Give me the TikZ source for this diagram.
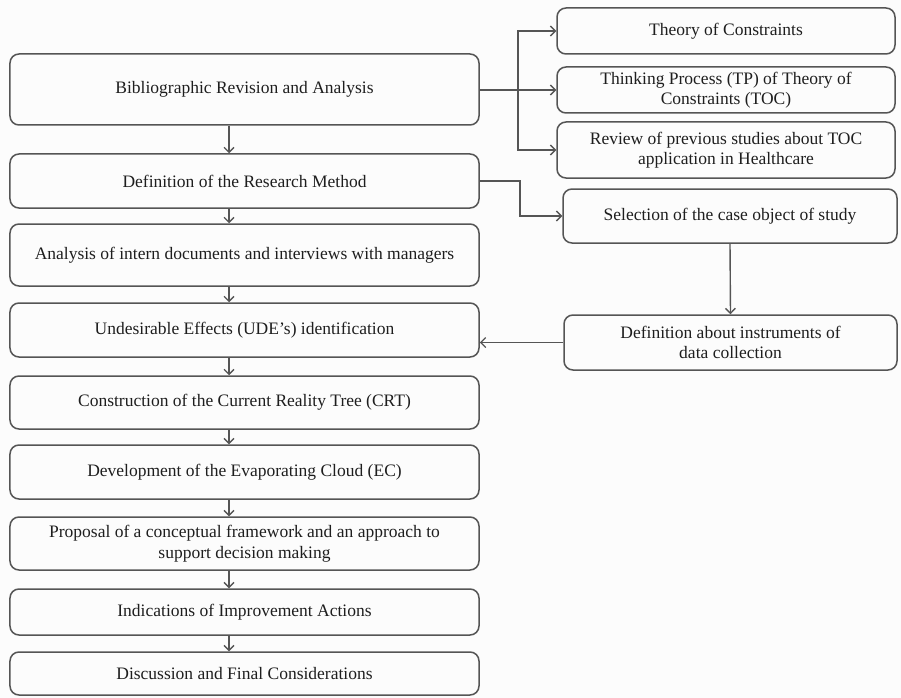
\documentclass[tikz,border=0pt]{standalone}
\usepackage{fontspec}
\setmainfont{Liberation Serif}
\usetikzlibrary{arrows.meta}
\definecolor{edgegray}{HTML}{555555}
\definecolor{txt}{HTML}{1E1E1E}
\definecolor{bg}{HTML}{FCFCFC}
\begin{document}
\begin{tikzpicture}[x=1bp,y=-1bp,
  box/.style={draw=edgegray, line width=1.5bp, rounded corners=9bp, align=center,
    text=txt, font=\fontsize{17.5bp}{20.5bp}\selectfont, inner sep=0pt},
  lbox/.style={box, minimum width=469bp},
  rbox/.style={box, minimum width=338bp},
  link/.style={draw=edgegray, line width=1.4bp},
  arr/.style={link, -{Straight Barb[length=5bp,width=10bp]}}]
\fill[bg] (0,0) rectangle (901,698);
\useasboundingbox (0,0) rectangle (901,698);
% left column
\node[lbox, minimum height=71bp] (b1) at (244.5,89.5) {Bibliographic Revision and Analysis};
\node[lbox, minimum height=54bp] (b2) at (244.5,181) {Definition of the Research Method};
\node[lbox, minimum height=62bp] (b3) at (244.5,255) {Analysis of intern documents and interviews with managers};
\node[lbox, minimum height=54bp] (b4) at (244.5,330) {Undesirable Effects (UDE’s) identification};
\node[lbox, minimum height=53bp] (b5) at (244.5,402.5) {Construction of the Current Reality Tree (CRT)};
\node[lbox, minimum height=54bp] (b6) at (244.5,472) {Development of the Evaporating Cloud (EC)};
\node[lbox, minimum height=53bp] (b7) at (244.5,543.5) {Proposal of a conceptual framework and an approach to\\support decision making};
\node[lbox, minimum height=46bp] (b8) at (244.5,612) {Indications of Improvement Actions};
\node[lbox, minimum height=43bp] (b9) at (244.5,673.5) {Discussion and Final Considerations};
% right column
\node[rbox, minimum height=46bp] (r1) at (726,31) {Theory of Constraints};
\node[rbox, minimum height=46bp] (r2) at (726,90) {Thinking Process (TP) of Theory of\\Constraints (TOC)};
\node[rbox, minimum height=56bp] (r3) at (726,150) {Review of previous studies about TOC\\application in Healthcare};
\node[box, minimum width=334bp, minimum height=54bp] (r4) at (730,216) {Selection of the case object of study};
\node[box, minimum width=333bp, minimum height=55bp] (r5) at (730.5,342.5) {Definition about instruments of\\data collection};
% connectors
\coordinate (ax) at (229,0);
\foreach \a/\b in {b1/b2,b2/b3,b3/b4,b4/b5,b5/b6,b6/b7,b7/b8,b8/b9}
  \draw[arr] (\a.south -| ax) -- (\b.north -| ax);
\coordinate (j1) at (518,90);
\draw[link] (b1.east |- j1) -- (j1);
\draw[arr] (j1) |- (r1.west);
\draw[arr] (j1) -- (j1 -| r2.west);
\draw[arr] (j1) |- (r3.west);
\coordinate (j2) at (520,181);
\draw[arr] (b2.east) -- (j2) |- (r4.west);
\draw[arr] (r4.south) -- (r5.north);
\draw[arr] (r5.west) -- (r5.west -| b4.east);
\end{tikzpicture}
\end{document}
